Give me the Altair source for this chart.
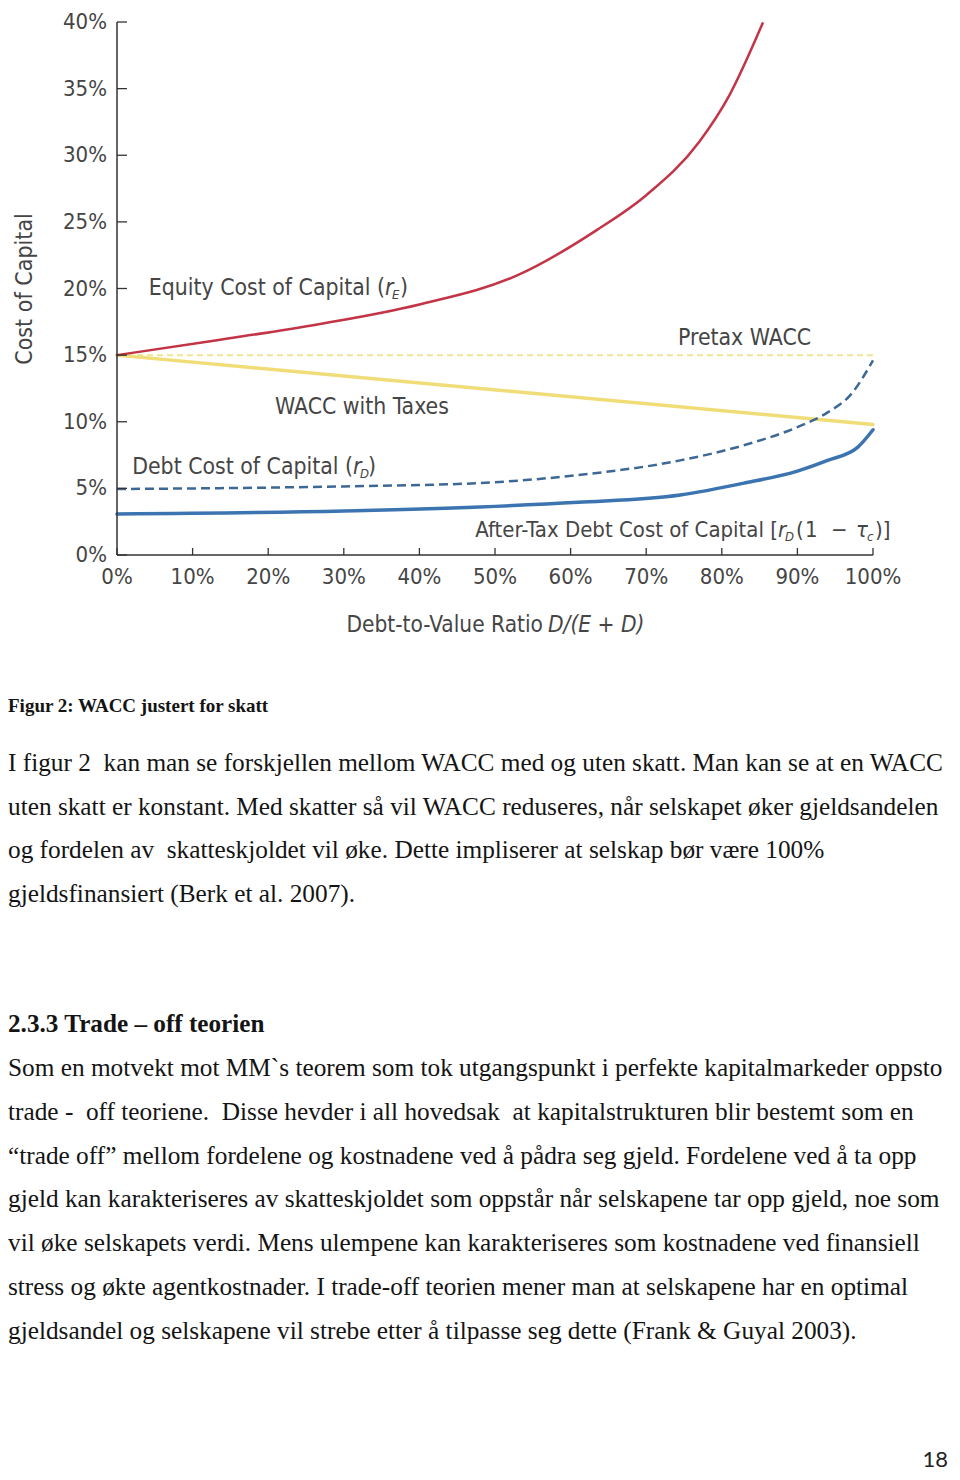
import altair as alt
import pandas as pd

# ---------------- data ----------------
x_ticks = [0, 10, 20, 30, 40, 50, 60, 70, 80, 90, 100]
y_ticks = [0, 5, 10, 15, 20, 25, 30, 35, 40]

re_x = [0, 13, 26.5, 40, 53, 63.5, 70, 77, 81, 85.4]
re_y = [15, 16.1, 17.3, 18.8, 21.0, 24.4, 27.0, 31.0, 34.5, 39.9]

wacc_tax_x = [0, 48, 100]
wacc_tax_y = [15, 12.5, 9.8]

pretax_x = [0, 100]
pretax_y = [15, 15]

rd_x = [0, 30, 48, 61, 74.5, 83, 90, 94, 97, 100]
rd_y = [4.95, 5.15, 5.4, 6.0, 7.1, 8.25, 9.6, 10.7, 12.0, 14.6]

rd_at_x = [0, 30, 48, 61, 74.5, 83, 90, 94, 98, 100]
rd_at_y = [3.08, 3.3, 3.6, 3.95, 4.5, 5.4, 6.3, 7.1, 8.1, 9.4]

caption = "Figur 2: WACC justert for skatt"
para1 = [
    "I figur 2  kan man se forskjellen mellom WACC med og uten skatt. Man kan se at en WACC",
    "uten skatt er konstant. Med skatter så vil WACC reduseres, når selskapet øker gjeldsandelen",
    "og fordelen av  skatteskjoldet vil øke. Dette impliserer at selskap bør være 100%",
    "gjeldsfinansiert (Berk et al. 2007).",
]
heading = "2.3.3 Trade – off teorien"
para2 = [
    "Som en motvekt mot MM`s teorem som tok utgangspunkt i perfekte kapitalmarkeder oppsto",
    "trade -  off teoriene.  Disse hevder i all hovedsak  at kapitalstrukturen blir bestemt som en",
    "“trade off” mellom fordelene og kostnadene ved å pådra seg gjeld. Fordelene ved å ta opp",
    "gjeld kan karakteriseres av skatteskjoldet som oppstår når selskapene tar opp gjeld, noe som",
    "vil øke selskapets verdi. Mens ulempene kan karakteriseres som kostnadene ved finansiell",
    "stress og økte agentkostnader. I trade-off teorien mener man at selskapene har en optimal",
    "gjeldsandel og selskapene vil strebe etter å tilpasse seg dette (Frank & Guyal 2003).",
]
page_no = "18"

# ---------------- layout ----------------
W, H = 756, 533
OX, OY = 117, 22  # page position of plot origin
SANS = "DejaVu Sans Condensed, Liberation Sans Narrow, DejaVu Sans"
SERIF = "Liberation Serif, Times New Roman, serif"
GRAY = "#454545"
AX = "#333333"
LS = 22.8


def fix(s):
    return s.replace("  ", " \u00a0")


def txt(s, x, y, size, font=SANS, align="left", color=GRAY, style="normal",
        weight="normal", angle=0, baseline="alphabetic"):
    return alt.Chart(alt.Data(values=[{}])).mark_text(
        text=fix(s), align=align, baseline=baseline, font=font, fontSize=size,
        color=color, fontStyle=style, fontWeight=weight, angle=angle,
    ).encode(x=alt.value(x - OX), y=alt.value(y - OY))


xs = alt.Scale(domain=[0, 100], nice=False, zero=False)
ys = alt.Scale(domain=[0, 40], nice=False, zero=False)


def X(f="x"):
    return alt.X(f"{f}:Q", scale=xs, axis=None)


def Y(f="y"):
    return alt.Y(f"{f}:Q", scale=ys, axis=None)


def line(xv, yv, color, width, dash=None, interp="monotone"):
    df = pd.DataFrame({"x": xv, "y": yv})
    kw = dict(color=color, strokeWidth=width, interpolate=interp, strokeCap="round")
    if dash:
        kw["strokeDash"] = dash
        kw["strokeCap"] = "butt"
    return alt.Chart(df).mark_line(**kw).encode(x=X(), y=Y())


xdf = pd.DataFrame({"x": x_ticks, "lab": [f"{v}%" for v in x_ticks]})
ydf = pd.DataFrame({"y": y_ticks, "lab": [f"{v}%" for v in y_ticks]})

# axis lines, inward ticks and tick labels
x_dom = alt.Chart(alt.Data(values=[{}])).mark_rule(color=AX, strokeWidth=1.5).encode(
    x=alt.value(0), x2=alt.value(W), y=alt.value(H))
y_dom = alt.Chart(alt.Data(values=[{}])).mark_rule(color=AX, strokeWidth=1.5).encode(
    x=alt.value(0), y=alt.value(0), y2=alt.value(H))
xt = alt.Chart(xdf).mark_rule(color=AX, strokeWidth=1.3).encode(
    x=X(), y=alt.value(H), y2=alt.value(H - 7))
yt = alt.Chart(ydf).mark_rule(color=AX, strokeWidth=1.3).encode(
    y=Y(), x=alt.value(0), x2=alt.value(10))
xl = alt.Chart(xdf).mark_text(font=SANS, fontSize=22, color=GRAY, align="center",
                              baseline="middle").encode(
    x=X(), y=alt.value(H + 22), text="lab:N")
yl = alt.Chart(ydf).mark_text(font=SANS, fontSize=22, color=GRAY, align="right",
                              baseline="middle").encode(
    y=Y(), x=alt.value(-10), text="lab:N")

layers = [
    line(pretax_x, pretax_y, "#efe592", 2, dash=[6, 4], interp="linear"),
    line(wacc_tax_x, wacc_tax_y, "#f1dd78", 3.5, interp="linear"),
    line(re_x, re_y, "#c23446", 2.5),
    line(rd_x, rd_y, "#3d6896", 2.5, dash=[9, 5]),
    line(rd_at_x, rd_at_y, "#3b74b0", 3.5),
    x_dom, y_dom, xt, yt, xl, yl,
]

# chart labels
lab = [
    txt("Cost of Capital", 32, 289, 23, angle=270, align="center"),
    txt("Debt-to-Value Ratio", 543, 632, 22.5, align="right"),
    txt("D/(E + D)", 548, 632, 22.5, style="italic"),
    txt("Equity Cost of Capital (", 385, 295, LS, align="right"),
    txt("r", 385, 295, LS, style="italic"),
    txt("E", 392, 299, 13, style="italic"),
    txt(")", 400, 295, LS),
    txt("Pretax WACC", 678, 345, LS),
    txt("WACC with Taxes", 275, 414, LS),
    txt("Debt Cost of Capital (", 353, 474, LS, align="right"),
    txt("r", 353, 474, LS, style="italic"),
    txt("D", 360, 478, 13, style="italic"),
    txt(")", 368, 474, LS),
    txt("After-Tax Debt Cost of Capital [", 778, 537, 22, align="right"),
    txt("r", 778, 537, 22, style="italic"),
    txt("D", 785, 541, 13, style="italic"),
    txt("(", 796, 537, 22),
    txt("1", 805, 537, 22),
    txt("\u2212", 831, 537, 22),
    txt("\u03c4", 856, 537, 22, style="italic"),
    txt("c", 867, 541, 13, style="italic"),
    txt(")]", 875, 537, 22),
]

# document text
DOC = "#141414"
doc = [txt(caption, 8, 712, 19.0, font=SERIF, color=DOC, weight="bold")]
for i, s in enumerate(para1):
    doc.append(txt(s, 8, 771 + i * 43.7, 25.3, font=SERIF, color=DOC))
doc.append(txt(heading, 8, 1032, 25.2, font=SERIF, color=DOC, weight="bold"))
for i, s in enumerate(para2):
    doc.append(txt(s, 8, 1076 + i * 43.8, 25.3, font=SERIF, color=DOC))
doc.append(txt(page_no, 948, 1467, 22, font="Lato, Open Sans, sans-serif", color="#222", align="right"))

chart = alt.layer(*layers, *lab, *doc).properties(
    width=W, height=H,
    autosize=alt.AutoSizeParams(type="none"),
    padding={"left": 109, "top": 14, "right": 79, "bottom": 917},
    background="white",
).configure_view(stroke=None)

chart.save("out.html", embed_options={"renderer": "svg", "actions": False})
